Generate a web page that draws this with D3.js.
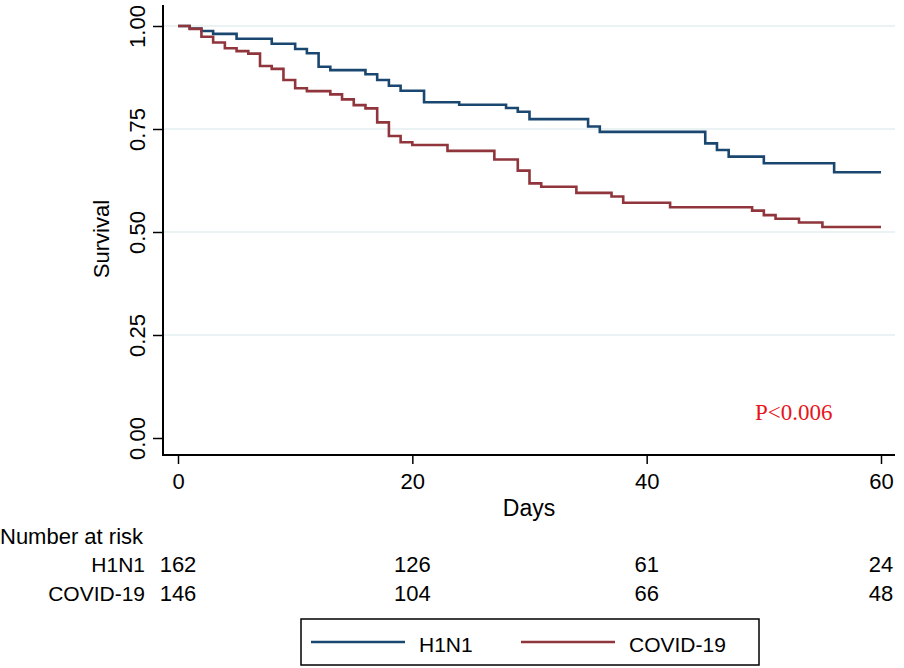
<!DOCTYPE html>
<html>
<head>
<meta charset="utf-8">
<script src="https://cdn.jsdelivr.net/npm/d3@7"></script>
<style>
  html, body { margin: 0; padding: 0; background: #fff; }
  svg { display: block; }
  text { font-family: "Liberation Sans", Arial, Helvetica, sans-serif; fill: #000; }
</style>
</head>
<body>
<svg id="chart" width="904" height="668"></svg>
<script>
// ---- Data ----
const seriesNames = ["H1N1", "COVID-19"];
const h1n1Times = [0, 1, 2, 3, 5, 8, 10, 11, 12, 13, 16, 17, 18, 19, 21, 24, 28, 29, 30, 35, 36, 45, 46, 47, 50, 56, 60];
const h1n1Surv  = [1.0, 0.994, 0.988, 0.981, 0.969, 0.957, 0.944, 0.934, 0.901, 0.893, 0.883, 0.869, 0.855, 0.843, 0.815, 0.809, 0.801, 0.792, 0.774, 0.756, 0.743, 0.715, 0.699, 0.683, 0.667, 0.645, 0.645];
const covidTimes = [0, 1, 2, 3, 4, 5, 6, 7, 8, 9, 10, 11, 13, 14, 15, 16, 17, 18, 19, 20, 23, 27, 29, 30, 31, 34, 37, 38, 42, 49, 50, 51, 53, 55, 60];
const covidSurv  = [1.0, 0.993, 0.974, 0.960, 0.946, 0.939, 0.933, 0.903, 0.896, 0.869, 0.849, 0.842, 0.834, 0.822, 0.808, 0.800, 0.766, 0.733, 0.718, 0.711, 0.697, 0.676, 0.649, 0.618, 0.610, 0.595, 0.586, 0.571, 0.560, 0.552, 0.541, 0.532, 0.523, 0.512, 0.512];
const xTicks = [0, 20, 40, 60];
const yTicks = [0, 0.25, 0.5, 0.75, 1.0];
const yTickLabels = ["0.00", "0.25", "0.50", "0.75", "1.00"];
const riskTimes = [0, 20, 40, 60];
const riskH1N1 = [162, 126, 61, 24];
const riskCovid = [146, 104, 66, 48];
const pText = "P<0.006";

// ---- Styles ----
const colors = ["#1a476f", "#90353b"];
const svg = d3.select("#chart");

const x = d3.scaleLinear().domain([0, 60]).range([178, 881]);
const y = d3.scaleLinear().domain([0, 1]).range([438, 26]);

const axisLeftX = 163, axisBottomY = 455, plotRight = 895, plotTop = 5;

// gridlines
svg.append("g").selectAll("line").data(yTicks.filter(d => d > 0)).join("line")
  .attr("x1", axisLeftX).attr("x2", plotRight)
  .attr("y1", d => y(d)).attr("y2", d => y(d))
  .attr("stroke", "#eaf2f3").attr("stroke-width", 2);

// curves
const stepLine = d3.line().x(d => x(d[0])).y(d => y(d[1])).curve(d3.curveStepAfter);
const curves = [
  d3.zip(h1n1Times, h1n1Surv),
  d3.zip(covidTimes, covidSurv)
];
curves.forEach((c, i) => {
  svg.append("path").datum(c).attr("d", stepLine)
    .attr("fill", "none").attr("stroke", colors[i]).attr("stroke-width", 2.6)
    .attr("stroke-linejoin", "miter");
});

// y axis
const yAxis = d3.axisLeft(y).tickValues(yTicks).tickSize(10).tickFormat((d, i) => yTickLabels[i]);
const gy = svg.append("g").attr("transform", `translate(${axisLeftX},0)`).call(yAxis);
gy.select(".domain").remove();
gy.selectAll(".tick line").attr("stroke", "#000").attr("stroke-width", 1.5);
gy.selectAll(".tick text")
  .attr("x", null).attr("dy", null)
  .attr("transform", "translate(-18.5,0) rotate(-90)")
  .attr("text-anchor", "middle")
  .style("font-family", '"Liberation Sans", Arial, sans-serif')
  .style("font-size", "22px");
svg.append("line").attr("x1", axisLeftX).attr("x2", axisLeftX).attr("y1", plotTop).attr("y2", axisBottomY + 1)
  .attr("stroke", "#000").attr("stroke-width", 2);

// x axis
const xAxis = d3.axisBottom(x).tickValues(xTicks).tickSize(9).tickFormat(d3.format("d"));
const gx = svg.append("g").attr("transform", `translate(0,${axisBottomY})`).call(xAxis);
gx.select(".domain").remove();
gx.selectAll(".tick line").attr("stroke", "#000").attr("stroke-width", 1.5);
gx.selectAll(".tick text")
  .attr("y", 34).attr("dy", null)
  .style("font-family", '"Liberation Sans", Arial, sans-serif')
  .style("font-size", "22px");
svg.append("line").attr("x1", axisLeftX - 1).attr("x2", plotRight).attr("y1", axisBottomY).attr("y2", axisBottomY)
  .attr("stroke", "#000").attr("stroke-width", 2);

// axis titles
svg.append("text").attr("x", 529).attr("y", 516).attr("text-anchor", "middle")
  .style("font-size", "23px").text("Days");
svg.append("text").attr("transform", "translate(109,239) rotate(-90)").attr("text-anchor", "middle")
  .style("font-size", "22px").text("Survival");

// p value
svg.append("text").attr("x", 755).attr("y", 420)
  .style("font-family", '"Liberation Serif", "Times New Roman", serif')
  .style("font-size", "23px").style("fill", "#e8141b").text(pText);

// number at risk
svg.append("text").attr("x", 0).attr("y", 544).style("font-size", "22px").text("Number at risk");
const riskRows = [riskH1N1, riskCovid];
const rowY = [572, 601];
riskRows.forEach((row, i) => {
  svg.append("text").attr("x", 145).attr("y", rowY[i]).attr("text-anchor", "end")
    .style("font-size", "21px").text(seriesNames[i]);
  svg.append("g").selectAll("text").data(row).join("text")
    .attr("x", (d, j) => x(riskTimes[j])).attr("y", rowY[i])
    .attr("text-anchor", "middle").style("font-size", "22px").text(d => d);
});

// legend
const lg = svg.append("g");
lg.append("rect").attr("x", 301).attr("y", 619).attr("width", 458).attr("height", 46)
  .attr("fill", "#fff").attr("stroke", "#000").attr("stroke-width", 1.5);
const legX = [311, 521];
seriesNames.forEach((n, i) => {
  lg.append("line").attr("x1", legX[i]).attr("x2", legX[i] + 94).attr("y1", 642).attr("y2", 642)
    .attr("stroke", colors[i]).attr("stroke-width", 2.6);
  lg.append("text").attr("x", legX[i] + 108).attr("y", 652).style("font-size", "21px").text(n);
});
</script>
</body>
</html>
